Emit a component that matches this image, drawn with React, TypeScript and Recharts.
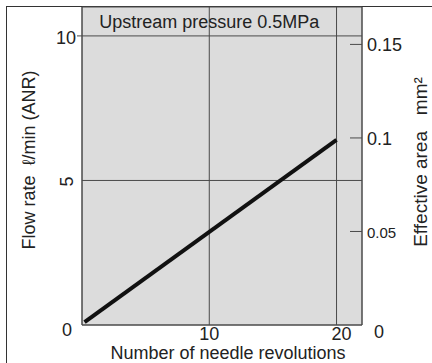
import React from "react";
import {
  LineChart,
  Line,
  XAxis,
  YAxis,
  CartesianGrid,
  ReferenceArea,
  Label,
} from "recharts";

// needle revolutions vs flow rate at 0.5 MPa upstream
const revolutions = [0.2, 20];
const flowRate = [0.1, 6.4];

const xTicks = [10, 20];
const flowTicks = [0, 5, 10];
const areaTicks = [0, 0.05, 0.1, 0.15];

const headerText = "Upstream pressure 0.5MPa";
const xTitle = "Number of needle revolutions";
const leftTitle = "Flow rate  \u2113/min (ANR)";
const rightTitle = "Effective area   mm\u00b2";

const data = revolutions.map((r, i) => ({ rev: r, flow: flowRate[i] }));

const FONT = "'Liberation Sans', Arial, Helvetica, sans-serif";
const INK = "#222";
const GRID = "#4a4a4a";

function LeftTick(props: any) {
  const { x, y, payload } = props;
  const v = payload.value;
  if (v === 5) {
    return (
      <text
        transform={`translate(${x - 9},${y + 1}) rotate(-90)`}
        textAnchor="middle"
        dominantBaseline="central"
        fontSize={18}
        fill={INK}
      >
        5
      </text>
    );
  }
  if (v === 0) {
    return (
      <text x={x - 4} y={y + 5} textAnchor="end" dominantBaseline="central" fontSize={18} fill={INK}>
        0
      </text>
    );
  }
  return (
    <g>
      <line x1={x + 1} x2={x + 6} y1={y} y2={y} stroke={GRID} />
      <text x={x} y={y + 2} textAnchor="end" dominantBaseline="central" fontSize={18} fill={INK}>
        {v}
      </text>
    </g>
  );
}

function RightTick(props: any) {
  const { x, y, payload } = props;
  const v = payload.value;
  if (v === 0) {
    return (
      <text x={x + 7} y={y + 7} textAnchor="start" dominantBaseline="central" fontSize={18} fill={INK}>
        0
      </text>
    );
  }
  const small = v === 0.05;
  return (
    <g>
      <line x1={x - 17} x2={x - 5} y1={y} y2={y} stroke={GRID} />
      <text
        x={x}
        y={y + 1}
        textAnchor="start"
        dominantBaseline="central"
        fontSize={small ? 15 : 18}
        fill={INK}
      >
        {v}
      </text>
    </g>
  );
}

function BottomTick(props: any) {
  const { x, y, payload } = props;
  const dx = payload.value === 20 ? 5 : 0;
  return (
    <text x={x + dx} y={y} dy="0.71em" textAnchor="middle" fontSize={18} fill={INK}>
      {payload.value}
    </text>
  );
}

export default function App() {
  return (
    <div style={{ position: "absolute", left: 0, top: 0, width: 432, height: 363, background: "#fff", fontFamily: FONT, overflow: "hidden" }}>
      <div
        style={{
          position: "absolute",
          left: 6,
          top: 6,
          width: 440,
          height: 380,
          borderLeft: "1.5px solid #333",
          borderTop: "1.5px solid #333",
        }}
      />
      <div style={{ position: "absolute", left: 0, top: 0 }}>
        <LineChart width={432} height={363} data={data} margin={{ top: 7, right: 30, bottom: 8, left: 22 }}>
          <CartesianGrid yAxisId="left" fill="#dcdcdc" fillOpacity={1} stroke={GRID} />
          <XAxis
            dataKey="rev"
            type="number"
            domain={[0, 22]}
            ticks={xTicks}
            height={30}
            tickLine={false}
            tickSize={0}
            tickMargin={2}
            axisLine={{ stroke: GRID }}
            tick={<BottomTick />}
          >
            <Label
              content={({ viewBox }: any) => (
                <text x={viewBox.x + viewBox.width / 2 + 6} y={359} textAnchor="middle" fontSize={18} fill={INK}>
                  {xTitle}
                </text>
              )}
            />
          </XAxis>
          <YAxis
            yAxisId="left"
            type="number"
            domain={[0, 11]}
            ticks={flowTicks}
            width={60}
            tickLine={false}
            tickSize={0}
            tickMargin={6}
            axisLine={{ stroke: GRID }}
            tick={<LeftTick />}
          >
            <Label
              content={({ viewBox }: any) => (
                <text
                  transform={`translate(${viewBox.x + 7},${viewBox.y + viewBox.height / 2 - 6}) rotate(-90)`}
                  textAnchor="middle"
                  dominantBaseline="central"
                  fontSize={18}
                  fill={INK}
                  style={{ whiteSpace: "pre" }}
                >
                  {leftTitle}
                </text>
              )}
            />
          </YAxis>
          <YAxis
            yAxisId="right"
            orientation="right"
            type="number"
            domain={[0, 0.17]}
            allowDataOverflow
            ticks={areaTicks}
            width={40}
            tickLine={false}
            tickSize={0}
            tickMargin={5}
            axisLine={{ stroke: GRID }}
            tick={<RightTick />}
          >
            <Label
              content={({ viewBox }: any) => (
                <text
                  transform={`translate(${viewBox.x + 58},${viewBox.y + viewBox.height / 2 - 4}) rotate(-90)`}
                  textAnchor="middle"
                  dominantBaseline="central"
                  fontSize={19}
                  fill={INK}
                  style={{ whiteSpace: "pre" }}
                >
                  {rightTitle}
                </text>
              )}
            />
          </YAxis>
          <ReferenceArea
            yAxisId="left"
            x1={0}
            x2={20}
            y1={10}
            y2={11}
            fill="none"
            stroke="none"
            ifOverflow="visible"
            label={{ value: headerText, position: "center", fontSize: 18, fill: INK }}
          />
          <Line
            yAxisId="left"
            type="linear"
            dataKey="flow"
            stroke="#111"
            strokeWidth={4}
            dot={false}
            isAnimationActive={false}
          />
        </LineChart>
      </div>
    </div>
  );
}
